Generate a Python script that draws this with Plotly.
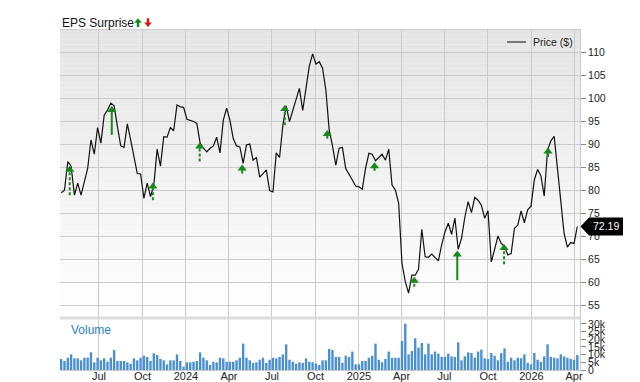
import plotly.graph_objects as go
import pandas as pd

# ---------------- data ----------------
week_start = "2023-04-12"
price = [
    79.5, 80.1, 86.3, 85.3, 79.0, 81.6, 79.0, 81.6, 84.8, 91.0, 87.9, 93.7, 90.3, 96.4, 97.5, 99.0,
    98.4, 93.9, 89.7, 89.4, 94.5, 91.0, 87.7, 83.7, 83.6, 78.3, 81.6, 78.7, 81.2, 89.0, 85.3, 91.7,
    91.6, 93.7, 93.0, 98.6, 98.2, 98.1, 95.5, 95.3, 95.0, 94.6, 90.3, 89.2, 88.4, 89.2, 89.7, 91.6,
    88.2, 95.3, 97.9, 95.3, 91.3, 89.7, 89.5, 85.9, 89.9, 90.1, 86.6, 87.2, 82.9, 83.7, 84.5, 80.0,
    79.7, 88.2, 87.2, 94.2, 98.4, 95.0, 97.5, 100.0, 102.2, 97.4, 101.8, 107.1, 109.7, 107.5, 108.0, 106.6,
    101.8, 93.2, 89.7, 85.5, 89.2, 89.4, 84.8, 83.4, 82.3, 81.0, 80.8, 80.3, 84.8, 88.1, 87.9,
    86.5, 87.2, 87.9, 86.6, 89.0, 81.2, 80.1, 77.2, 64.2, 60.2, 57.7, 61.6, 61.6, 62.9, 71.6, 65.6,
    65.5, 66.2, 65.5, 64.7, 68.2, 71.0, 72.9, 70.5, 74.0, 67.2, 69.6, 74.2, 77.6, 75.2, 78.5, 77.9,
    76.8, 74.0, 75.6, 64.5, 67.2, 70.1, 68.5, 67.9, 66.0, 66.3, 71.8, 72.5, 75.6, 73.0, 75.8, 76.6,
    82.3, 84.6, 83.2, 78.8, 88.8, 90.8, 91.8, 84.8, 77.2, 70.7, 67.7, 68.7, 68.5, 72.19,
]
volume_k = [
    7.2, 5.9, 8.0, 10.2, 7.6, 7.6, 6.3, 8.0, 8.0, 11.5, 5.0, 8.0, 6.3, 7.6, 5.4, 8.0,
    13.0, 5.9, 5.9, 5.9, 5.0, 4.1, 7.6, 6.3, 8.0, 9.3, 8.5, 5.9, 10.9, 9.8, 7.2, 6.3,
    3.7, 6.3, 6.3, 10.2, 5.9, 2.2, 5.0, 5.0, 5.4, 5.9, 11.5, 8.0, 6.3, 3.3, 5.4, 5.0,
    8.0, 7.6, 5.4, 5.4, 5.4, 6.3, 8.0, 17.2, 8.0, 6.3, 4.6, 5.0, 6.7, 8.0, 4.6, 6.7,
    8.0, 7.6, 8.5, 10.2, 16.7, 6.7, 5.4, 4.1, 5.0, 4.6, 7.6, 5.4, 5.0, 4.2,
    3.3, 6.3, 6.3, 13.7, 13.0, 8.5, 8.5, 4.6, 9.3, 8.5, 12.0, 3.7, 3.7, 5.9, 5.9, 8.0,
    9.3, 17.2, 6.7, 5.0, 7.2, 12.0, 8.0, 8.0, 8.0, 18.9, 30.2, 10.2, 12.4, 20.7, 14.6, 17.6,
    10.2, 17.2, 10.2, 12.0, 10.7, 8.5, 8.5, 10.7, 8.9, 8.5, 18.0, 6.3, 8.9, 11.5, 11.1, 8.0,
    12.0, 13.3, 7.6, 7.2, 11.1, 9.3, 6.3, 11.1, 14.1, 5.4, 8.0, 6.3, 8.0, 7.6, 10.2, 4.6,
    3.7, 11.1, 6.7, 5.4, 8.9, 16.7, 8.5, 8.0, 7.6, 10.2, 8.9, 8.0, 7.2, 6.7, 9.8,
]
earn_dates = ["2023-04-30", "2023-07-28", "2023-10-23", "2024-01-30", "2024-04-29", "2024-07-28",
              "2024-10-26", "2025-02-03", "2025-04-28", "2025-07-28", "2025-11-04", "2026-02-05"]
earn_tail = [79.0, 92.1, 77.9, 86.3, 83.7, 94.2, 91.3, 84.3, 59.1, 60.5, 64.0, 87.3]
earn_tip = [85.2, 98.2, 81.6, 90.3, 85.5, 98.4, 93.0, 86.0, 61.1, 66.8, 68.2, 89.2]
earn_dashed = [True, False, True, True, False, True, False, False, True, False, True, False]

tick_dates = ["2023-07-01", "2023-10-01", "2024-01-01", "2024-04-01", "2024-07-01", "2024-10-01",
              "2025-01-01", "2025-04-01", "2025-07-01", "2025-10-01", "2026-01-01", "2026-04-01"]
tick_text = ["Jul", "Oct", "2024", "Apr", "Jul", "Oct", "2025", "Apr", "Jul", "Oct", "2026", "Apr"]
price_ticks = [55, 60, 65, 70, 75, 80, 85, 90, 95, 100, 105, 110]
vol_ticks = [0, 5, 10, 15, 20, 25, 30]
vol_tick_text = ["0", "5k", "10k", "15k", "20k", "25k", "30k"]

n = min(len(price), len(volume_k))
dates = pd.date_range(week_start, periods=n, freq="7D")
price = price[:n]
volume_k = volume_k[:n]

# ---------------- layout geometry ----------------
W, H = 640, 382
ML, MR, MT, MB = 60, 60, 30, 12
PW, PH = W - ML - MR, H - MT - MB
SPLIT = (370 - 318) / PH
P_RANGE = [52.3, 114.9]
V_RANGE = [0, 33.9]
X_RANGE = ["2023-04-09 12:00", "2026-04-13 16:00"]
FONT = "Liberation Sans, Arial, sans-serif"
GREEN = "#168a16"


def px(x):
    return (x - ML) / PW


def py(y):
    return (H - MB - y) / PH


def price_paper(p):
    return SPLIT + (p - P_RANGE[0]) / (P_RANGE[1] - P_RANGE[0]) * (1 - SPLIT)


fig = go.Figure()

# volume bars
fig.add_trace(go.Bar(x=dates, y=volume_k, xaxis="x", yaxis="y",
                     marker=dict(color="#4a8fd0", line=dict(width=0)),
                     showlegend=False, hoverinfo="skip"))

# price line
fig.add_trace(go.Scatter(x=dates, y=price, xaxis="x2", yaxis="y2", mode="lines",
                         line=dict(color="#111111", width=1.2), showlegend=False,
                         name="Price ($)"))

# earnings arrows
unit = (P_RANGE[1] - P_RANGE[0]) / ((1 - SPLIT) * PH)  # price units per pixel
for d, t0, t1, dsh in zip(earn_dates, earn_tail, earn_tip, earn_dashed):
    fig.add_trace(go.Scatter(x=[d, d], y=[t0, t1 - 4 * unit], xaxis="x2", yaxis="y2",
                             mode="lines", line=dict(color=GREEN, width=2,
                                                     dash="3px,2px" if dsh else "solid"),
                             showlegend=False, hoverinfo="skip"))
    fig.add_trace(go.Scatter(x=[d], y=[t1 - 3.2 * unit], xaxis="x2", yaxis="y2",
                             mode="markers", marker=dict(symbol="triangle-up", size=8, color=GREEN,
                                                         line=dict(width=0)),
                             showlegend=False, hoverinfo="skip"))

shapes = []
# gradient background of price panel
NB = 60
for i in range(NB):
    f0 = i / NB
    f1 = (i + 1) / NB
    c = int(round(228 + (255 - 228) * ((i + 0.5) / NB)))
    shapes.append(dict(type="rect", xref="paper", yref="paper", x0=0, x1=1,
                       y0=1 - (1 - SPLIT) * f1, y1=1 - (1 - SPLIT) * f0,
                       fillcolor=f"rgb({c},{c},{c})", line=dict(width=0), layer="below"))
# separator between panels
shapes.append(dict(type="rect", xref="paper", yref="paper", x0=0, x1=1,
                   y0=py(319.5), y1=py(316.5), fillcolor="#dcdcdc", line=dict(width=0), layer="above"))
# manual legend line
shapes.append(dict(type="line", xref="paper", yref="paper", x0=px(507), x1=px(526),
                   y0=py(42), y1=py(42), line=dict(color="#777777", width=2)))


def path(points):
    return "M " + " L ".join(f"{px(a):.5f},{py(b):.5f}" for a, b in points) + " Z"


# title arrows
gx, rx = 138, 148
shapes.append(dict(type="path", xref="paper", yref="paper", fillcolor=GREEN, line=dict(width=0),
                   path=path([(gx, 18.3), (gx + 3.8, 22.8), (gx + 1.2, 22.8), (gx + 1.2, 27),
                              (gx - 1.2, 27), (gx - 1.2, 22.8), (gx - 3.8, 22.8)])))
shapes.append(dict(type="path", xref="paper", yref="paper", fillcolor="#e01010", line=dict(width=0),
                   path=path([(rx, 27), (rx + 3.8, 22.5), (rx + 1.2, 22.5), (rx + 1.2, 18.3),
                              (rx - 1.2, 18.3), (rx - 1.2, 22.5), (rx - 3.8, 22.5)])))

# last price tag
ly = price_paper(price[-1])
hh = 9 / PH
shapes.append(dict(type="path", xref="paper", yref="paper", fillcolor="#000000", line=dict(width=0),
                   path=f"M {px(580.5):.5f},{ly:.5f} L {px(589):.5f},{ly + hh:.5f} L {px(623):.5f},{ly + hh:.5f} "
                        f"L {px(623):.5f},{ly - hh:.5f} L {px(589):.5f},{ly - hh:.5f} Z"))

annotations = [
    dict(text="EPS Surprise", xref="paper", yref="paper", x=0, y=py(23), xanchor="left",
         yanchor="middle", showarrow=False, font=dict(family=FONT, size=12, color="#111111")),
    dict(text="Price ($)", xref="paper", yref="paper", x=px(531), y=py(42), xanchor="left",
         yanchor="middle", showarrow=False, font=dict(family=FONT, size=10.5, color="#222222")),
    dict(text="Volume", xref="paper", yref="paper", x=px(69), y=py(330), xanchor="left",
         yanchor="middle", showarrow=False, font=dict(family=FONT, size=12, color="#2f7fc4")),
    dict(text=f"{price[-1]:.2f}", xref="paper", yref="paper", x=px(606), y=ly, xanchor="center",
         yanchor="middle", showarrow=False, font=dict(family=FONT, size=10.5, color="#ffffff")),
]

grid = "#cbcbcb"
fig.update_layout(
    width=W, height=H,
    margin=dict(l=ML, r=MR, t=MT, b=MB, autoexpand=False),
    paper_bgcolor="#ffffff", plot_bgcolor="#ffffff",
    bargap=0.28,
    showlegend=False,
    font=dict(family=FONT, size=10.5, color="#222222"),
    xaxis=dict(domain=[0, 1], anchor="y", type="date", range=X_RANGE, automargin=False,
               tickmode="array", tickvals=tick_dates, ticktext=tick_text,
               showgrid=True, gridcolor=grid, gridwidth=1, ticks="",
               ticklabelstandoff=-4,
               tickfont=dict(size=11, color="#222222"),
               showline=True, linecolor=grid, mirror=True, zeroline=False),
    xaxis2=dict(domain=[0, 1], anchor="y2", type="date", matches="x", range=X_RANGE,
                automargin=False,
                tickmode="array", tickvals=tick_dates, showticklabels=False,
                showgrid=True, gridcolor=grid, gridwidth=1, ticks="",
                showline=True, linecolor=grid, mirror=True, zeroline=False),
    yaxis=dict(domain=[0, SPLIT], anchor="x", range=V_RANGE, side="right", automargin=False,
               tickmode="array", tickvals=vol_ticks, ticktext=vol_tick_text,
               ticks="outside", ticklen=5, tickcolor="#888888", showgrid=False,
               tickfont=dict(size=10.5, color="#222222"), zeroline=False,
               showline=True, linecolor=grid),
    yaxis2=dict(domain=[SPLIT, 1], anchor="x2", range=P_RANGE, side="right", automargin=False,
                tickmode="array", tickvals=price_ticks,
                ticks="outside", ticklen=5, tickcolor="#888888",
                showgrid=True, gridcolor=grid, gridwidth=1,
                tickfont=dict(size=10.5, color="#222222"), zeroline=False,
                showline=True, linecolor=grid),
    shapes=shapes,
    annotations=annotations,
)

fig.write_html("out.html")
